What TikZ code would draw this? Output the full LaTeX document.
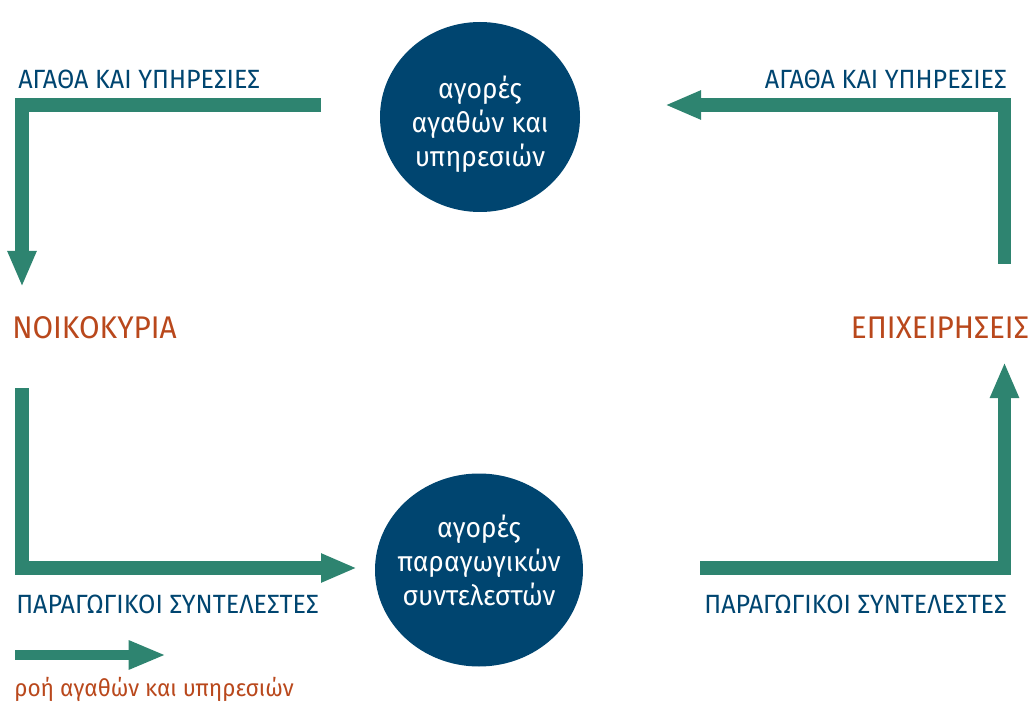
\documentclass[tikz,border=0pt]{standalone}
\usepackage{fontspec}
\setmainfont{Fira Sans}[FakeStretch=0.95]
\usetikzlibrary{arrows.meta,shapes.geometric}
\definecolor{cblue}{RGB}{0,69,112}
\definecolor{cgreen}{RGB}{46,132,112}
\definecolor{corange}{RGB}{185,72,28}
\tikzset{
  flow/.style={draw=cgreen, line width=10pt, line join=miter, -{Triangle[width=20pt,length=27pt]}},
  market/.style={ellipse, fill=cblue, inner sep=0pt},
  markettext/.style={text=white, align=center, font=\fontsize{21}{25.5}\selectfont, inner sep=0pt},
  caplabel/.style={text=cblue, font=\fontsize{19.8}{22}\selectfont, inner sep=0pt},
  sector/.style={text=corange, font=\fontsize{23.5}{26}\selectfont, inner sep=0pt},
}
\begin{document}
\begin{tikzpicture}[x=0.75pt,y=-0.75pt]
\useasboundingbox (0,0) rectangle (1032,702);
% markets
\node[market, minimum width=200*0.75pt, minimum height=190*0.75pt] (mg) at (480,117) {};
\node[markettext] (mgt) at (480,124) {αγορές\\αγαθών και\\υπηρεσιών};
\node[market, minimum width=208*0.75pt, minimum height=193*0.75pt] (mf) at (479,570) {};
\node[markettext] (mft) at (479,560) {αγορές\\παραγωγικών\\συντελεστών};
% sectors
\node[sector, anchor=west] (hh) at (12,328) {ΝΟΙΚΟΚΥΡΙΑ};
\node[sector, anchor=east] (fi) at (1029,328) {ΕΠΙΧΕΙΡΗΣΕΙΣ};
% labels
\node[caplabel, anchor=west] (l1) at (18,79) {ΑΓΑΘΑ ΚΑΙ ΥΠΗΡΕΣΙΕΣ};
\node[caplabel, anchor=east] (l2) at (1007,79) {ΑΓΑΘΑ ΚΑΙ ΥΠΗΡΕΣΙΕΣ};
\node[caplabel, anchor=west] (l3) at (16,604) {ΠΑΡΑΓΩΓΙΚΟΙ ΣΥΝΤΕΛΕΣΤΕΣ};
\node[caplabel, anchor=east] (l4) at (1007,604) {ΠΑΡΑΓΩΓΙΚΟΙ ΣΥΝΤΕΛΕΣΤΕΣ};
% arrow ends
\coordinate (a1s) at (321,105);
\coordinate (a1e) at (22,287);
\coordinate (a2s) at (22,388);
\coordinate (a2e) at (357,568);
\coordinate (a3s) at (700,568);
\coordinate (a3e) at (1004.5,362);
\coordinate (a4s) at (1004.5,264);
\coordinate (a4e) at (665,105);
\draw[flow] (a1s) -| (a1e);
\draw[flow] (a2s) |- (a2e);
\draw[flow] (a3s) -| (a3e);
\draw[flow] (a4s) |- (a4e);
% legend
\coordinate (ls) at (15,655);
\coordinate (le) at (166,655);
\draw[draw=cgreen, line width=7pt, -{Triangle[width=20pt,length=28pt]}] (ls) -- (le);
\node[anchor=west, text=corange, inner sep=0pt, font=\fontsize{17.9}{20}\selectfont] (lt) at (14,689) {ροή αγαθών και υπηρεσιών};
\end{tikzpicture}
\end{document}
